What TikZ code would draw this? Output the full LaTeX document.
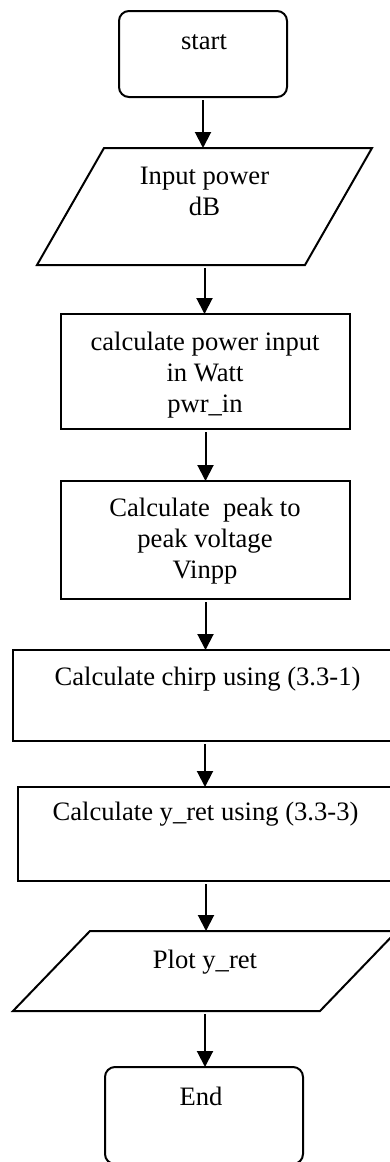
\documentclass[tikz,border=0pt]{standalone}
\usepackage{fontspec}
\setmainfont{Liberation Serif}
\usetikzlibrary{arrows.meta}
\begin{document}
\begin{tikzpicture}[x=0.5pt,y=-0.5pt,
  shp/.style={draw, line width=1pt, inner sep=0pt, outer sep=0pt},
  term/.style={shp, rectangle, rounded corners=5pt},
  proc/.style={shp, rectangle},
  io/.style={rectangle, inner sep=0pt, outer sep=0pt},
  ioline/.style={line width=1pt, line join=miter},
  lbl/.style={font=\fontsize{13.3pt}{15.5pt}\selectfont, align=center, inner sep=0pt},
  arr/.style={-{Triangle[length=8pt,width=8pt]}, line width=1pt, shorten <=1.5pt}]
\useasboundingbox (0,0) rectangle (390,1162);
\clip (0,0) rectangle (390,1162);

\node[term, minimum width=84pt, minimum height=43pt] (start) at (203,54) {};
\node[io, minimum width=167.5pt, minimum height=58.5pt] (inp) at (204.5,206.5) {};
\draw[ioline] ([xshift=33.5pt]inp.north west) -- (inp.north east) -- ([xshift=-33.5pt]inp.south east) -- (inp.south west) -- cycle;
\node[proc, minimum width=144.5pt, minimum height=57.5pt] (pw) at (205.5,371.5) {};
\node[proc, minimum width=144.5pt, minimum height=59pt] (vp) at (205.5,540) {};
\node[proc, minimum width=192pt, minimum height=45.5pt] (ch) at (205,695.5) {};
\node[proc, minimum width=188pt, minimum height=47pt] (yr) at (206,834) {};
\node[io, minimum width=192pt, minimum height=40pt] (plt) at (205,971) {};
\draw[ioline] ([xshift=38.5pt]plt.north west) -- (plt.north east) -- ([xshift=-38.5pt]plt.south east) -- (plt.south west) -- cycle;
\node[term, minimum width=99pt, minimum height=48.5pt] (end) at (204,1115.5) {};

\node[lbl] (tstart) at (204,42) {start};
\node[lbl] (tinp) at (204.5,191) {Input power\\dB};
\node[lbl] (tpw) at (205,375.5) {calculate power input\\in Watt\\pwr\_in};
\node[lbl] (tvp) at (205,541) {Calculate\ \ peak to\\peak voltage\\Vinpp};
\node[lbl] (tch) at (207.5,679) {Calculate chirp using (3.3-1)};
\node[lbl] (tyr) at (205.5,814.5) {Calculate y\_ret using (3.3-3)};
\node[lbl] (tplt) at (205,962) {Plot y\_ret};
\node[lbl] (tend) at (201,1096.5) {End};

\draw[arr] (start.south) -- (start.south |- inp.north);
\draw[arr] (inp.south) -- (inp.south |- pw.north);
\draw[arr] (pw.south) -- (pw.south |- vp.north);
\draw[arr] (vp.south) -- (vp.south |- ch.north);
\draw[arr] (ch.south) -- (ch.south |- yr.north);
\draw[arr] (yr.south) -- (yr.south |- plt.north);
\draw[arr] (plt.south) -- (plt.south |- end.north);
\end{tikzpicture}
\end{document}
